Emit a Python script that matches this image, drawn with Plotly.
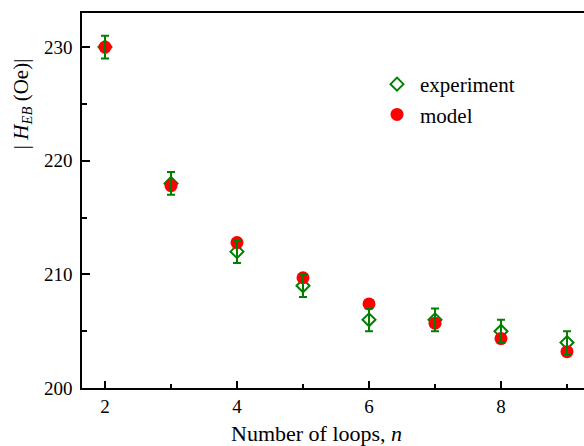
import plotly.graph_objects as go

n_loops = [2, 3, 4, 5, 6, 7, 8, 9]
experiment = [230, 218, 212, 209, 206, 206, 205, 204]
experiment_err = [1, 1, 1, 1, 1, 1, 1, 1]
model = [230, 217.8, 212.8, 209.7, 207.4, 205.7, 204.35, 203.2]

FONT = "Liberation Serif"
GREEN = "#008000"
RED = "#ff0000"

fig = go.Figure()
fig.add_trace(go.Scatter(
    x=n_loops, y=experiment, mode="markers", name="experiment",
    marker=dict(symbol="diamond-open", size=10, color=GREEN, line=dict(width=2, color=GREEN)),
))
fig.add_trace(go.Scatter(
    x=n_loops, y=model, mode="markers", name="model",
    marker=dict(symbol="circle", size=13, color=RED, line=dict(width=0)),
))
fig.add_trace(go.Scatter(
    x=n_loops, y=experiment, mode="markers", showlegend=False, hoverinfo="skip",
    marker=dict(size=1, color="rgba(0,0,0,0)"),
    error_y=dict(type="data", array=experiment_err, visible=True, color=GREEN, thickness=2, width=4),
))

fig.update_layout(
    width=584, height=446,
    margin=dict(l=82, r=0, t=13, b=58),
    paper_bgcolor="white", plot_bgcolor="white",
    font=dict(family=FONT, size=19, color="black"),
    showlegend=True,
    legend=dict(x=0.5817, y=0.864, xanchor="left", yanchor="top",
                font=dict(family=FONT, size=21), bgcolor="rgba(0,0,0,0)",
                itemwidth=36, tracegroupgap=0),
    annotations=[
        dict(text="| <i>H</i><sub><i>EB</i></sub> (Oe)|", xref="paper", yref="paper",
             x=-0.1195, y=0.757, xanchor="center", yanchor="middle", textangle=-90,
             showarrow=False, font=dict(family=FONT, size=21)),
        dict(text="Number of loops, <i>n</i>", xref="paper", yref="paper",
             x=0.468, y=-0.12, xanchor="center", yanchor="middle",
             showarrow=False, font=dict(family=FONT, size=22)),
    ],
)
fig.update_xaxes(
    range=[1.6515, 9.2576], showgrid=False, zeroline=False,
    showline=True, linecolor="black", linewidth=1.5, mirror=True,
    ticks="inside", ticklen=7, tickwidth=1.5, tickcolor="black",
    tickmode="linear", tick0=2, dtick=2,
    minor=dict(ticks="inside", ticklen=4, tickwidth=1.5, tickcolor="black", dtick=1, tick0=2, showgrid=False),
    tickfont=dict(family=FONT, size=19),
)
fig.update_yaxes(
    range=[200, 233], showgrid=False, zeroline=False,
    showline=True, linecolor="black", linewidth=1.5, mirror=False,
    ticks="inside", ticklen=8, tickwidth=1.5, tickcolor="black",
    tickmode="linear", tick0=200, dtick=10,
    minor=dict(ticks="inside", ticklen=5, tickwidth=1.5, tickcolor="black", dtick=5, tick0=200, showgrid=False),
    tickfont=dict(family=FONT, size=19), ticklabelstandoff=4,
)

fig.write_html("out.html")
